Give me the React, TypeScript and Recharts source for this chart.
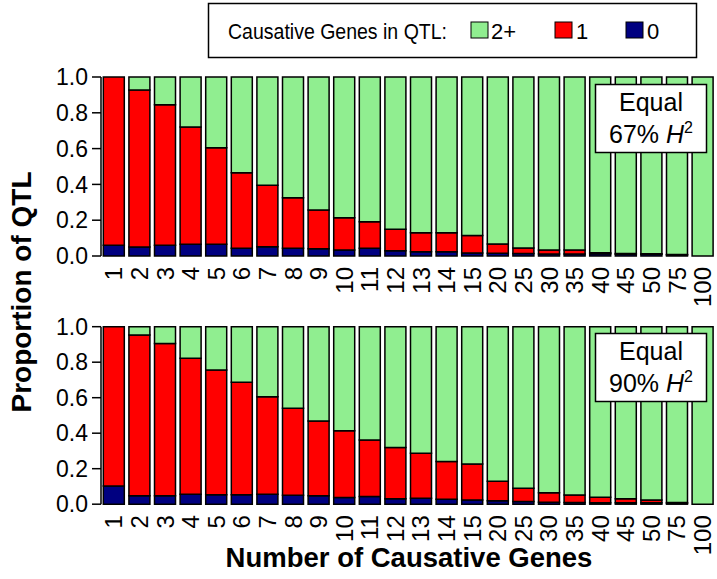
import React from 'react';
import { BarChart, Bar, XAxis, YAxis } from 'recharts';

const categories = ['1','2','3','4','5','6','7','8','9','10','11','12','13','14','15','20','25','30','35','40','45','50','75','100'];

// Panel A: Equal 67% H2
const zeroA = [0.06,0.05,0.06,0.065,0.065,0.043,0.052,0.043,0.041,0.034,0.043,0.029,0.024,0.024,0.017,0.015,0.014,0.011,0.011,0.012,0.01,0.01,0.006,0];
const oneA  = [0.94,0.877,0.785,0.655,0.54,0.422,0.343,0.283,0.216,0.18,0.149,0.12,0.106,0.106,0.098,0.052,0.031,0.022,0.022,0.006,0.004,0.003,0.002,0];
const twoA  = [0,0.073,0.155,0.28,0.395,0.535,0.605,0.674,0.743,0.786,0.808,0.851,0.87,0.87,0.885,0.933,0.955,0.967,0.967,0.982,0.986,0.987,0.992,1];

// Panel B: Equal 90% H2
const zeroB = [0.103,0.047,0.047,0.056,0.053,0.053,0.056,0.051,0.047,0.038,0.043,0.03,0.034,0.028,0.024,0.019,0.015,0.011,0.009,0.008,0.008,0.008,0.005,0];
const oneB  = [0.897,0.906,0.859,0.766,0.703,0.634,0.55,0.489,0.422,0.376,0.319,0.29,0.253,0.212,0.202,0.11,0.075,0.054,0.043,0.031,0.023,0.016,0.004,0];
const twoB  = [0,0.047,0.094,0.178,0.244,0.313,0.394,0.46,0.531,0.586,0.638,0.68,0.713,0.76,0.774,0.871,0.91,0.935,0.948,0.961,0.969,0.976,0.991,1];

const yTicks = [0, 0.2, 0.4, 0.6, 0.8, 1.0];

const FONT = '"Liberation Sans", Arial, Helvetica, sans-serif';
const GREEN = '#90EE90';
const RED = '#FF0000';
const NAVY = '#000080';

function rows(zero: number[], one: number[], two: number[]) {
  return categories.map((c, i) => ({ cat: c, zero: zero[i], one: one[i], two: two[i] }));
}

const XTick = (props: any) => {
  const { x, y, payload } = props;
  return (
    <text
      x={x}
      y={y}
      transform={`rotate(-90, ${x}, ${y})`}
      textAnchor="end"
      dominantBaseline="central"
      fontSize={24}
      fontFamily={FONT}
      fill="#000"
    >
      {payload.value}
    </text>
  );
};

function Panel({ data, plotTop, plotHeight }: { data: any[]; plotTop: number; plotHeight: number }) {
  const xAxisH = 60;
  const h = plotTop + plotHeight + xAxisH;
  return (
    <div style={{ position: 'absolute', left: 0, top: 0 }}>
      <BarChart
        width={717}
        height={h}
        data={data}
        margin={{ top: plotTop, right: 1.6, bottom: 0, left: 41 }}
        barCategoryGap="9%"
      >
        <XAxis
          dataKey="cat"
          axisLine={false}
          tickLine={false}
          interval={0}
          height={xAxisH}
          tickSize={5}
          tickMargin={6}
          tick={<XTick />}
        />
        <YAxis
          domain={[0, 1]}
          ticks={yTicks}
          width={60}
          tickFormatter={(v: number) => v.toFixed(1)}
          axisLine={{ stroke: '#000', strokeWidth: 1.5 }}
          tickLine={{ stroke: '#000', strokeWidth: 1.5 }}
          tickSize={9}
          tickMargin={4}
          tick={{ fontSize: 23, fill: '#000', fontFamily: FONT }}
        />
        <Bar dataKey="zero" stackId="s" fill={NAVY} stroke="#000" strokeWidth={1.5} isAnimationActive={false} />
        <Bar dataKey="one" stackId="s" fill={RED} stroke="#000" strokeWidth={1.5} isAnimationActive={false} />
        <Bar dataKey="two" stackId="s" fill={GREEN} stroke="#000" strokeWidth={1.5} isAnimationActive={false} />
      </BarChart>
    </div>
  );
}

function Annotation({ y, pct }: { y: number; pct: string }) {
  return (
    <g>
      <rect x={595.5} y={y} width={111} height={68} fill="#fff" stroke="#000" strokeWidth={1.5} />
      <text x={651} y={y + 26} textAnchor="middle" fontSize={25} fontFamily={FONT} fill="#000">Equal</text>
      <text x={651} y={y + 58} textAnchor="middle" fontSize={25} fontFamily={FONT} fill="#000">
        {pct}{' '}
        <tspan fontStyle="italic">H</tspan>
        <tspan dy={-10} fontSize={16}>2</tspan>
      </text>
    </g>
  );
}

export default function App() {
  const dataA = rows(zeroA, oneA, twoA);
  const dataB = rows(zeroB, oneB, twoB);
  return (
    <div style={{ position: 'absolute', left: 0, top: 0, width: 717, height: 579, background: '#fff', fontFamily: FONT }}>
      <Panel data={dataA} plotTop={77} plotHeight={179} />
      <Panel data={dataB} plotTop={326.7} plotHeight={177.5} />
      <svg width={717} height={579} style={{ position: 'absolute', left: 0, top: 0, pointerEvents: 'none' }}>
        {/* Legend */}
        <rect x={208.5} y={3.5} width={488} height={54} fill="#fff" stroke="#000" strokeWidth={1.5} />
        <text x={228} y={39} fontSize={22} fontFamily={FONT} fill="#000" textLength={219} lengthAdjust="spacingAndGlyphs">Causative Genes in QTL:</text>
        <rect x={471} y={22} width={17} height={16} fill={GREEN} stroke="#000" strokeWidth={1} />
        <text x={491} y={39} fontSize={22} fontFamily={FONT} fill="#000">2+</text>
        <rect x={555} y={22} width={17} height={16} fill={RED} stroke="#000" strokeWidth={1} />
        <text x={576} y={39} fontSize={22} fontFamily={FONT} fill="#000">1</text>
        <rect x={626} y={22} width={17} height={16} fill={NAVY} stroke="#000" strokeWidth={1} />
        <text x={647} y={39} fontSize={22} fontFamily={FONT} fill="#000">0</text>

        <Annotation y={84.5} pct="67%" />
        <Annotation y={333.5} pct="90%" />

        <text transform="translate(31, 292) rotate(-90)" textAnchor="middle" fontSize={28} fontWeight="bold" fontFamily={FONT} fill="#000">Proportion of QTL</text>
        <text x={409} y={567} textAnchor="middle" fontSize={27.5} fontWeight="bold" fontFamily={FONT} fill="#000">Number of Causative Genes</text>
      </svg>
    </div>
  );
}
